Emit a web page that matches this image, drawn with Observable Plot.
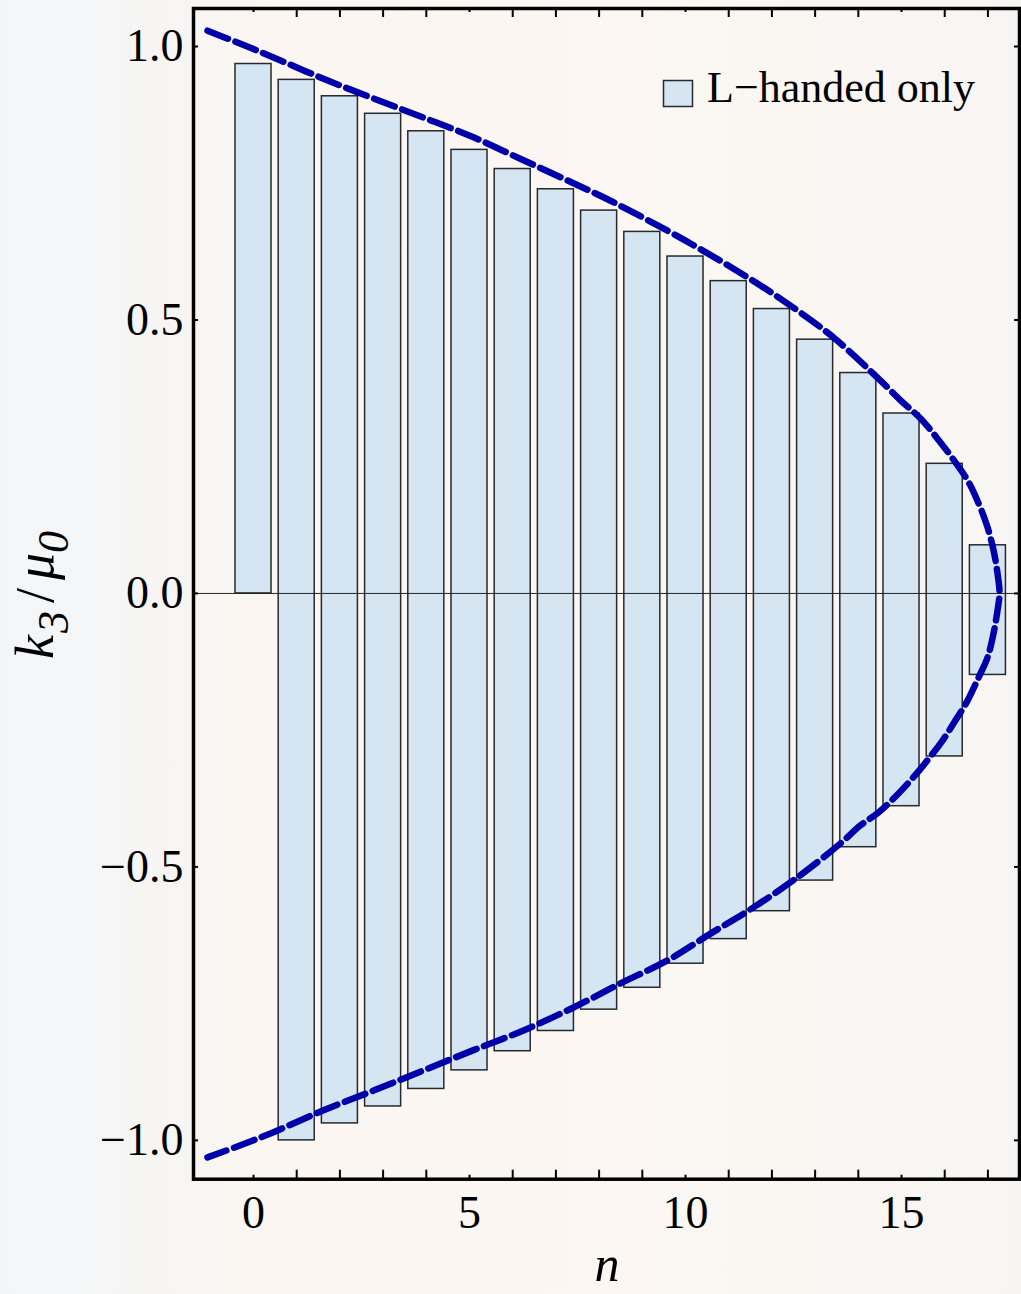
<!DOCTYPE html>
<html><head><meta charset="utf-8">
<script src="https://cdn.jsdelivr.net/npm/d3@7"></script>
<script src="https://cdn.jsdelivr.net/npm/@observablehq/plot@0.6"></script>
<style>
html,body{margin:0;padding:0;}
body{width:1021px;height:1294px;overflow:hidden;color:#000;
background:linear-gradient(90deg,#f3f6f9 0px,#f6f5f4 150px,#fbf6f1 260px,#fbf7f2 700px,#f7f5f3 1021px);}
#chart svg{display:block;}
</style></head><body><div id="chart"></div>
<script>
// ---- data ----
const nValues = [0,1,2,3,4,5,6,7,8,9,10,11,12,13,14,15,16,17];
const kTop = [0.968,0.939,0.909,0.877,0.845,0.811,0.776,0.739,0.700,0.661,0.616,0.571,0.520,0.464,0.403,0.329,0.237,0.088];
const kBottom = [0,-1.000,-0.969,-0.938,-0.906,-0.872,-0.837,-0.800,-0.761,-0.721,-0.677,-0.632,-0.581,-0.525,-0.464,-0.389,-0.298,-0.149];
const curveN = [-1.065,-0.301,0.463,1.620,2.778,3.935,5.093,6.250,7.407,8.264,10.000,11.435,12.361,13.426,14.514,14.977,15.440,15.833,16.181,16.528,16.782,16.991,17.130,17.222,17.269,17.222,17.130,16.991,16.782,16.528,16.250,15.949,15.602,15.208,14.815,14.444,14.051,13.588,12.593,11.574,10.579,9.583,8.495,7.407,6.250,5.093,3.935,2.778,1.620,0.463,-0.301,-1.065];
const curveK = [1.029,1.005,0.980,0.941,0.905,0.870,0.834,0.792,0.750,0.718,0.645,0.578,0.530,0.468,0.389,0.353,0.320,0.283,0.247,0.207,0.165,0.121,0.079,0.037,0.000,-0.031,-0.073,-0.117,-0.154,-0.196,-0.232,-0.269,-0.305,-0.342,-0.375,-0.402,-0.424,-0.457,-0.519,-0.574,-0.622,-0.671,-0.713,-0.757,-0.799,-0.835,-0.872,-0.909,-0.945,-0.985,-1.009,-1.031];
const xTickLabels = [0,5,10,15];
const xMinorTicks = [0,1,2,3,4,5,6,7,8,9,10,11,12,13,14,15,16,17];
const yTickLabels = [-1,-0.5,0,0.5,1];
const legendLabel = "L\u2212handed only";

// ---- layout ----
const W = 1021, H = 1294;
const mL = 193, mR = 2, mT = 8, mB = 115.3;
const innerH = H - mT - mB, innerW = W - mL - mR;
const barHalf = 0.417;
const barFill = "#d5e5f2", barStroke = "#262a2e";
const serif = "'Liberation Serif', 'Times New Roman', serif";

const bars = nValues.map((n, i) => ({n, top: kTop[i], bottom: kBottom[i]}));
const curve = curveN.map((n, i) => ({n, k: curveK[i]}));
const fmtY = d => d.toFixed(1).replace("-", "\u2212");

const chart = Plot.plot({
  width: W, height: H,
  marginLeft: mL, marginRight: mR, marginTop: mT, marginBottom: mB,
  style: {background: "transparent", fontFamily: serif, overflow: "visible"},
  x: {domain: [-1.389, 17.731]},
  y: {domain: [-1.071, 1.0695]},
  marks: [
    Plot.rectY(bars, {x1: d => d.n - barHalf, x2: d => d.n + barHalf, y1: "bottom", y2: "top",
      fill: barFill, stroke: barStroke, strokeWidth: 1.5}),
    Plot.ruleY([0], {stroke: "#222", strokeWidth: 1}),
    Plot.line(curve, {x: "n", y: "k", curve: "catmull-rom", stroke: "#0000aa", strokeWidth: 6.5,
      strokeDasharray: "22,8"}),
    // inward frame ticks
    Plot.tickX(xMinorTicks.filter(d => d % 5), {x: d => d, insetTop: innerH - 9, stroke: "#000", strokeWidth: 2}),
    Plot.tickX(xMinorTicks.filter(d => d % 5 === 0), {x: d => d, insetTop: innerH - 4, stroke: "#000", strokeWidth: 2}),
    Plot.tickX(xMinorTicks.filter(d => d % 5), {x: d => d, insetBottom: innerH - 9, stroke: "#000", strokeWidth: 2}),
    Plot.tickX(xMinorTicks.filter(d => d % 5 === 0), {x: d => d, insetBottom: innerH - 4, stroke: "#000", strokeWidth: 2}),
    Plot.tickY(yTickLabels, {y: d => d, insetRight: innerW - 5, stroke: "#000", strokeWidth: 2}),
    Plot.tickY(yTickLabels, {y: d => d, insetLeft: innerW - 5, stroke: "#000", strokeWidth: 2}),
    Plot.frame({stroke: "#000", strokeWidth: 3.5}),
    Plot.axisY({ticks: yTickLabels, tickSize: 0, tickPadding: 10, tickFormat: fmtY, fontSize: 46, label: null}),
    Plot.axisX({ticks: xTickLabels, tickSize: 0, tickPadding: 16, tickFormat: d => String(d), fontSize: 46, label: null})
  ]
});
document.getElementById("chart").appendChild(chart);

// ---- legend and axis titles (text overlays) ----
const svg = d3.select(chart.tagName.toLowerCase() === "svg" ? chart : chart.querySelector("svg"));
const g = svg.append("g").attr("font-family", serif).attr("fill", "#000").attr("text-anchor", "start");
g.append("rect").attr("x", 663.5).attr("y", 80.5).attr("width", 29).attr("height", 26)
  .attr("fill", barFill).attr("stroke", barStroke).attr("stroke-width", 1.5);
g.append("text").attr("x", 707).attr("y", 102).attr("font-size", 44).attr("text-anchor", "start").text(legendLabel);

g.append("text").attr("x", 607).attr("y", 1281).attr("font-size", 50).attr("font-style", "italic")
  .attr("text-anchor", "middle").text("n");

const yl = g.append("text").attr("transform", "translate(53,595) rotate(-90)")
  .attr("text-anchor", "middle").attr("font-size", 54).attr("font-style", "italic");
yl.append("tspan").text("k");
yl.append("tspan").attr("font-size", 44).attr("dy", 15).attr("dx", 2).text("3");
yl.append("tspan").attr("dy", -15).attr("dx", 8).attr("font-style", "normal").text("/");
yl.append("tspan").attr("dx", 8).text("\u03bc");
yl.append("tspan").attr("font-size", 44).attr("dy", 15).text("0");
</script></body></html>
